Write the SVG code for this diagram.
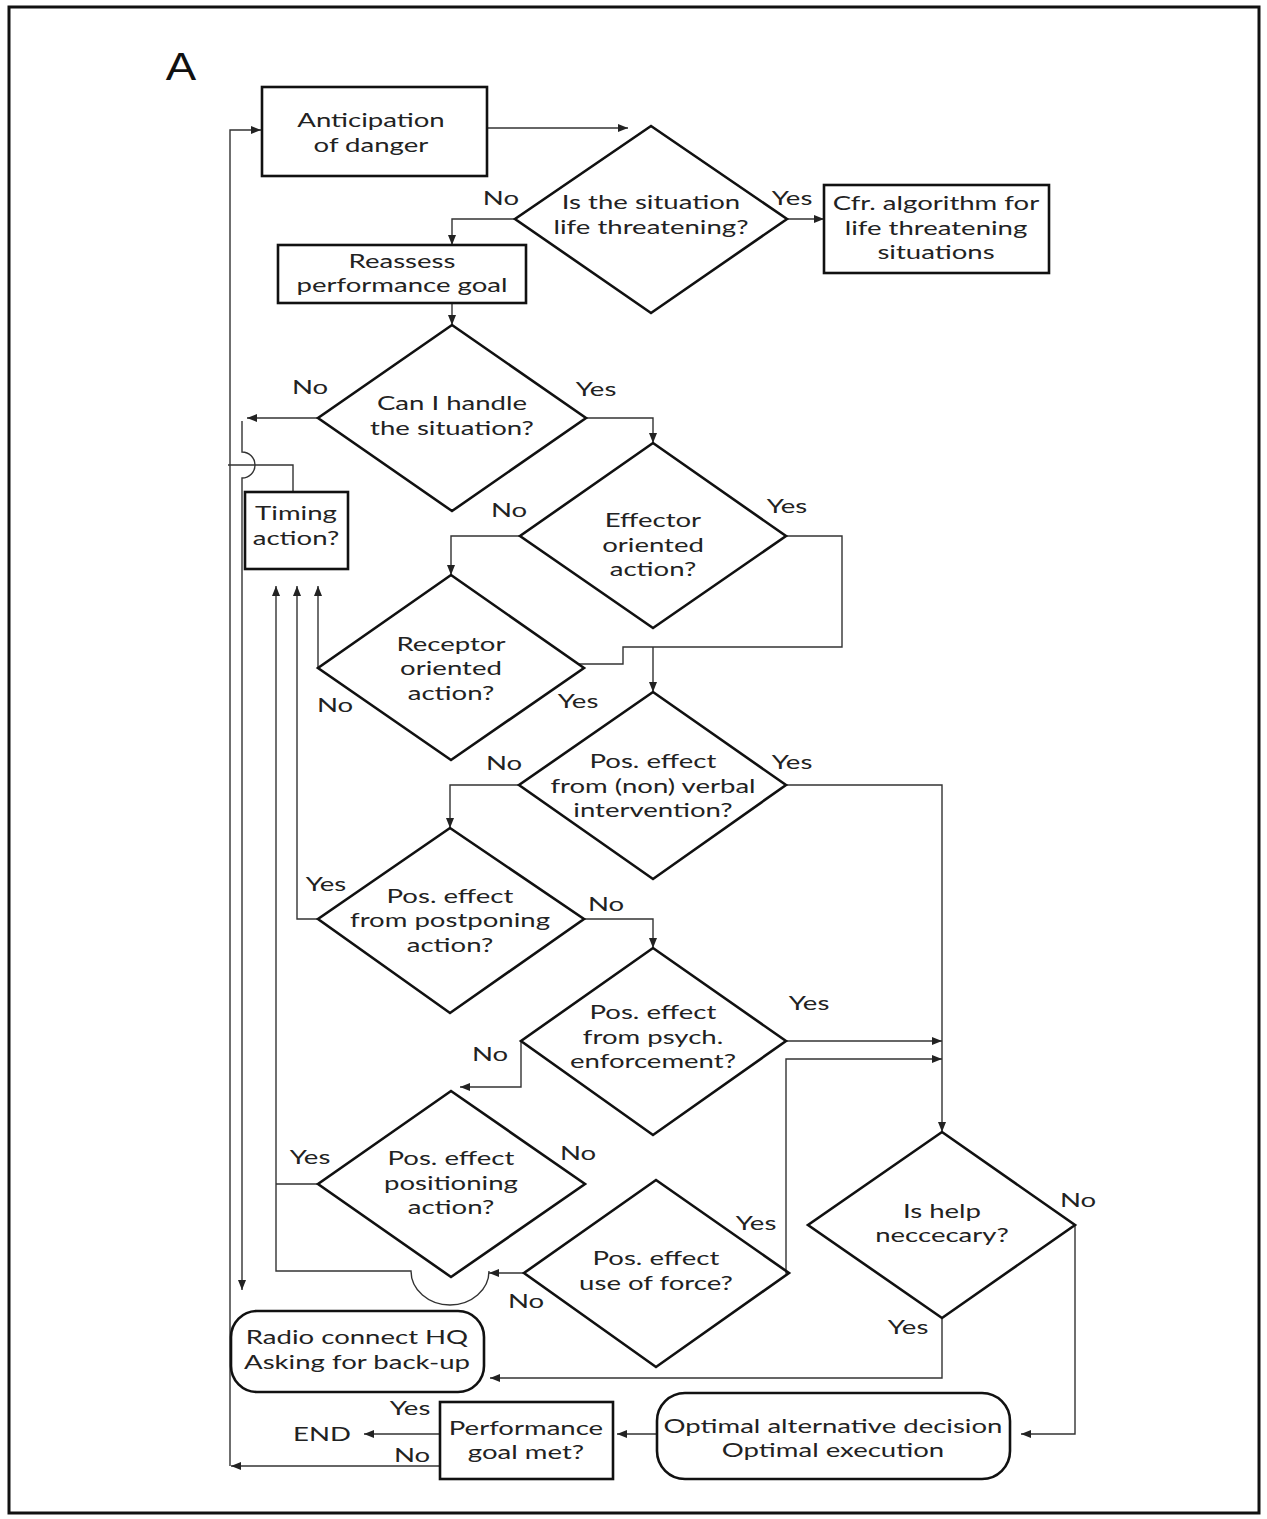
<svg xmlns="http://www.w3.org/2000/svg" width="1267" height="1519" viewBox="0 0 1267 1519">
<style>
  .bg { fill: #ffffff; }
  .frame { fill: none; stroke: #111; stroke-width: 3; }
  .node { fill: none; stroke: #111; stroke-width: 2.6; stroke-linejoin: miter; }
  .conn { fill: none; stroke: #333; stroke-width: 1.4; }
  .t, .lbl { font-family: Lato, "Open Sans", "DejaVu Sans", sans-serif; font-size: 19px; fill: #222; text-anchor: middle; dominant-baseline: central; transform-box: fill-box; transform-origin: center; transform: scaleX(1.45); }
  .big { font-family: "Liberation Sans", Arial, sans-serif; font-size: 38px; fill: #111; text-anchor: middle; transform-box: fill-box; transform-origin: center; transform: scaleX(1.2); }
</style>
<defs>
  <marker id="arr" markerUnits="userSpaceOnUse" markerWidth="11" markerHeight="9" refX="10" refY="4" orient="auto">
    <path d="M0,0 L10,4 L0,8 Z" fill="#222"/>
  </marker>
</defs>
<rect class="bg" x="0" y="0" width="1267" height="1519"/>
<rect class="frame" x="9" y="7" width="1250" height="1506"/>
<text class="big" x="181" y="80">A</text>

<g id="connectors">
  <path class="conn" d="M487,128 H628" marker-end="url(#arr)"/>
  <path class="conn" d="M515,219 H452 V245" marker-end="url(#arr)"/>
  <path class="conn" d="M787,219 H824" marker-end="url(#arr)"/>
  <path class="conn" d="M452,303 V325" marker-end="url(#arr)"/>
  <path class="conn" d="M318,418 H247" marker-end="url(#arr)"/>
  <path class="conn" d="M586,418 H653 V443" marker-end="url(#arr)"/>
  <path class="conn" d="M520,536 H451 V575" marker-end="url(#arr)"/>
  <path class="conn" d="M786,536 H842 V647 H623 V664 H579"/>
  <path class="conn" d="M653,647 V692" marker-end="url(#arr)"/>
  <path class="conn" d="M519,785 H450 V828" marker-end="url(#arr)"/>
  <path class="conn" d="M786,785 H942 V1132" marker-end="url(#arr)"/>
  <path class="conn" d="M318,668 V586" marker-end="url(#arr)"/>
  <path class="conn" d="M318,919 H297 V586" marker-end="url(#arr)"/>
  <path class="conn" d="M584,919 H653 V948" marker-end="url(#arr)"/>
  <path class="conn" d="M786,1041 H942" marker-end="url(#arr)"/>
  <path class="conn" d="M521,1041 V1087 H460" marker-end="url(#arr)"/>
  <path class="conn" d="M318,1184 H276"/>
  <path class="conn" d="M524,1273 H489" marker-end="url(#arr)"/>
  <path class="conn" d="M489,1271 A39,34 0 0 1 411,1271 H276 V586" marker-end="url(#arr)"/>
  <path class="conn" d="M788,1273 H786 V1059 H942" marker-end="url(#arr)"/>
  <path class="conn" d="M942,1318 V1378 H490" marker-end="url(#arr)"/>
  <path class="conn" d="M1075,1225 V1434 H1021" marker-end="url(#arr)"/>
  <path class="conn" d="M657,1434 H617" marker-end="url(#arr)"/>
  <path class="conn" d="M440,1434 H364" marker-end="url(#arr)"/>
  <path class="conn" d="M440,1466 H231" marker-end="url(#arr)"/>
  <path class="conn" d="M230,1466 V130 H261" marker-end="url(#arr)"/>
  <path class="conn" d="M293,492 V465 H228"/>
  <path class="conn" d="M242,421 V452 A13,13 0 0 1 242,478 V1290" marker-end="url(#arr)"/>
</g>

<g id="labels">
  <text class="lbl" x="501" y="198">No</text>
  <text class="lbl" x="792" y="198">Yes</text>
  <text class="lbl" x="310" y="387">No</text>
  <text class="lbl" x="596" y="389">Yes</text>
  <text class="lbl" x="509" y="510">No</text>
  <text class="lbl" x="787" y="506">Yes</text>
  <text class="lbl" x="335" y="705">No</text>
  <text class="lbl" x="578" y="701">Yes</text>
  <text class="lbl" x="504" y="763">No</text>
  <text class="lbl" x="792" y="762">Yes</text>
  <text class="lbl" x="326" y="884">Yes</text>
  <text class="lbl" x="606" y="904">No</text>
  <text class="lbl" x="809" y="1003">Yes</text>
  <text class="lbl" x="490" y="1054">No</text>
  <text class="lbl" x="310" y="1157">Yes</text>
  <text class="lbl" x="578" y="1153">No</text>
  <text class="lbl" x="756" y="1223">Yes</text>
  <text class="lbl" x="526" y="1301">No</text>
  <text class="lbl" x="1078" y="1200">No</text>
  <text class="lbl" x="908" y="1327">Yes</text>
  <text class="lbl" x="410" y="1408">Yes</text>
  <text class="lbl" x="412" y="1455">No</text>
</g>

<g id="n-anticipation">
  <rect class="node" x="262" y="87" width="225" height="89"/>
  <text class="t" x="371" y="120">Anticipation</text>
  <text class="t" x="371" y="145">of danger</text>
</g>
<g id="n-life-threatening">
  <polygon class="node" points="651,126 787,219 651,313 515,219"/>
  <text class="t" x="651" y="202">Is the situation</text>
  <text class="t" x="651" y="227">life threatening?</text>
</g>
<g id="n-cfr">
  <rect class="node" x="824" y="185" width="225" height="88"/>
  <text class="t" x="936" y="203">Cfr. algorithm for</text>
  <text class="t" x="936" y="228">life threatening</text>
  <text class="t" x="936" y="252">situations</text>
</g>
<g id="n-reassess">
  <rect class="node" x="278" y="245" width="248" height="58"/>
  <text class="t" x="402" y="261">Reassess</text>
  <text class="t" x="402" y="285">performance goal</text>
</g>
<g id="n-handle">
  <polygon class="node" points="452,325 586,418 452,511 318,418"/>
  <text class="t" x="452" y="403">Can I handle</text>
  <text class="t" x="452" y="428">the situation?</text>
</g>
<g id="n-effector">
  <polygon class="node" points="653,443 786,536 653,628 520,536"/>
  <text class="t" x="653" y="520">Effector</text>
  <text class="t" x="653" y="545">oriented</text>
  <text class="t" x="653" y="569">action?</text>
</g>
<g id="n-timing">
  <rect class="node" x="245" y="492" width="103" height="77"/>
  <text class="t" x="296" y="513">Timing</text>
  <text class="t" x="296" y="538">action?</text>
</g>
<g id="n-receptor">
  <polygon class="node" points="451,575 584,668 451,760 318,668"/>
  <text class="t" x="451" y="644">Receptor</text>
  <text class="t" x="451" y="668">oriented</text>
  <text class="t" x="451" y="693">action?</text>
</g>
<g id="n-verbal">
  <polygon class="node" points="653,692 786,785 653,879 519,785"/>
  <text class="t" x="653" y="761">Pos. effect</text>
  <text class="t" x="653" y="786">from (non) verbal</text>
  <text class="t" x="653" y="810">intervention?</text>
</g>
<g id="n-postponing">
  <polygon class="node" points="450,828 584,919 450,1013 318,919"/>
  <text class="t" x="450" y="896">Pos. effect</text>
  <text class="t" x="450" y="920">from postponing</text>
  <text class="t" x="450" y="945">action?</text>
</g>
<g id="n-psych">
  <polygon class="node" points="653,948 786,1041 653,1135 521,1041"/>
  <text class="t" x="653" y="1012">Pos. effect</text>
  <text class="t" x="653" y="1037">from psych.</text>
  <text class="t" x="653" y="1061">enforcement?</text>
</g>
<g id="n-positioning">
  <polygon class="node" points="451,1091 585,1184 451,1277 318,1184"/>
  <text class="t" x="451" y="1158">Pos. effect</text>
  <text class="t" x="451" y="1183">positioning</text>
  <text class="t" x="451" y="1207">action?</text>
</g>
<g id="n-force">
  <polygon class="node" points="656,1180 789,1273 656,1367 524,1273"/>
  <text class="t" x="656" y="1258">Pos. effect</text>
  <text class="t" x="656" y="1283">use of force?</text>
</g>
<g id="n-help">
  <polygon class="node" points="942,1132 1075,1225 942,1318 808,1225"/>
  <text class="t" x="942" y="1211">Is help</text>
  <text class="t" x="942" y="1235">neccecary?</text>
</g>
<g id="n-radio">
  <rect class="node" x="231" y="1311" width="253" height="81" rx="26" ry="26"/>
  <text class="t" x="357" y="1337">Radio connect HQ</text>
  <text class="t" x="357" y="1362">Asking for back-up</text>
</g>
<g id="n-optimal">
  <rect class="node" x="657" y="1393" width="353" height="86" rx="28" ry="28"/>
  <text class="t" x="833" y="1426">Optimal alternative decision</text>
  <text class="t" x="833" y="1450">Optimal execution</text>
</g>
<g id="n-performance">
  <rect class="node" x="440" y="1402" width="173" height="77"/>
  <text class="t" x="526" y="1428">Performance</text>
  <text class="t" x="526" y="1452">goal met?</text>
</g>
<g id="n-end">
  <text class="t" x="322" y="1434">END</text>
</g>
</svg>
